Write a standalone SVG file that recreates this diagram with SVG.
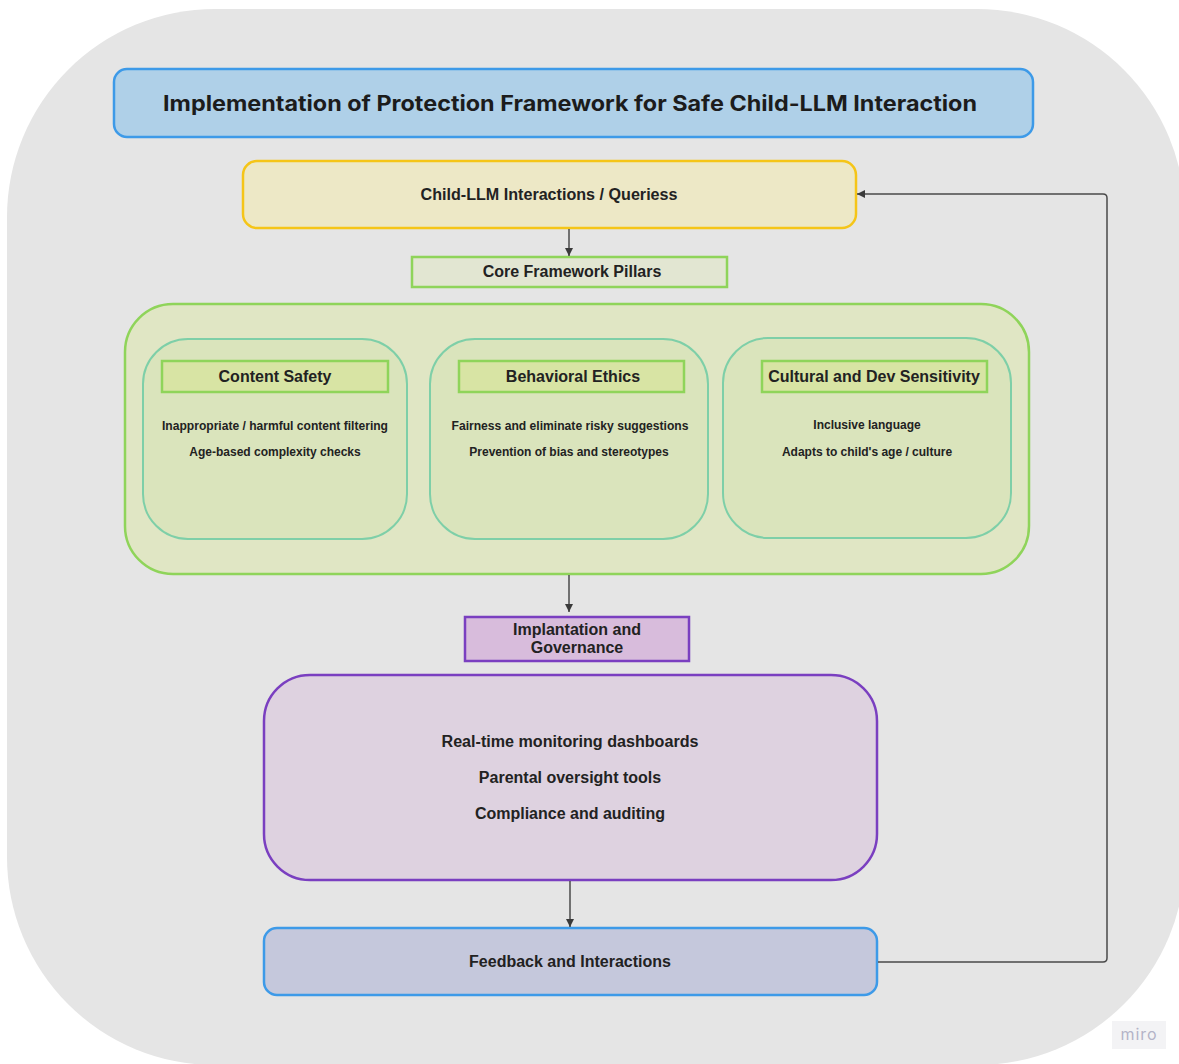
<svg xmlns="http://www.w3.org/2000/svg" width="1179" height="1064" viewBox="0 0 1179 1064">
<style>
  .t { font-family: "Liberation Sans", Arial, sans-serif; font-weight: bold; fill: #222; text-anchor: middle; }
  .title { font-family: Inter, "Noto Sans", sans-serif; font-weight: 700; fill: #1c1c1c; text-anchor: middle; font-size: 21px; }
  .conn { fill: none; stroke: #4a4a4a; stroke-width: 1.5; }
  .panel { fill: #dae4bc; stroke: #7ecfa8; stroke-width: 2; }
  .hdr { fill: #d8e4a4; stroke: #8fd45a; stroke-width: 2.5; }
</style>
<defs>
  <marker id="arr" viewBox="0 0 10 10" refX="10" refY="5" markerWidth="8" markerHeight="8" orient="auto" markerUnits="userSpaceOnUse">
    <path d="M0,0 L10,5 L0,10 z" fill="#3a3a3a"/>
  </marker>
</defs>
<rect x="0" y="0" width="1179" height="1064" fill="#ffffff"/>
<rect x="7" y="9" width="1178" height="1056" rx="208" ry="208" fill="#e5e5e5"/>

<g id="title">
  <rect x="114" y="69" width="919" height="68" rx="13" fill="#afd0e8" stroke="#3d9ae8" stroke-width="2.5"/>
  <text class="title" x="570" y="111" textLength="814" lengthAdjust="spacingAndGlyphs">Implementation of Protection Framework for Safe Child-LLM Interaction</text>
</g>

<g id="queries">
  <rect x="243" y="161" width="613" height="67" rx="14" fill="#ede8c6" stroke="#f5c518" stroke-width="2.5"/>
  <text class="t" x="549" y="200" font-size="16" textLength="257" lengthAdjust="spacingAndGlyphs">Child-LLM Interactions / Queriess</text>
</g>

<g id="core-pillars-label">
  <rect x="412" y="257" width="315" height="30" fill="#e2e6d2" stroke="#8fd45a" stroke-width="2.5"/>
  <text class="t" x="572" y="277" font-size="16">Core Framework Pillars</text>
</g>

<g id="pillars-container">
  <rect x="125" y="304" width="904" height="270" rx="48" fill="#e0e6c4" stroke="#8fd45a" stroke-width="2.5"/>
</g>

<g id="content-safety">
  <rect class="panel" x="143" y="339" width="264" height="200" rx="45"/>
  <rect class="hdr" x="162" y="361" width="226" height="31"/>
  <text class="t" x="275" y="382" font-size="16">Content Safety</text>
  <text class="t" x="275" y="430" font-size="12" textLength="226" lengthAdjust="spacingAndGlyphs">Inappropriate / harmful content filtering</text>
  <text class="t" x="275" y="456" font-size="12">Age-based complexity checks</text>
</g>

<g id="behavioral-ethics">
  <rect class="panel" x="430" y="339" width="278" height="200" rx="45"/>
  <rect class="hdr" x="459" y="361" width="225" height="31"/>
  <text class="t" x="573" y="382" font-size="16">Behavioral Ethics</text>
  <text class="t" x="570" y="430" font-size="12" textLength="237" lengthAdjust="spacingAndGlyphs">Fairness and eliminate risky suggestions</text>
  <text class="t" x="569" y="456" font-size="12">Prevention of bias and stereotypes</text>
</g>

<g id="cultural-sensitivity">
  <rect class="panel" x="723" y="338" width="288" height="200" rx="45"/>
  <rect class="hdr" x="762" y="361" width="225" height="31"/>
  <text class="t" x="874" y="382" font-size="16">Cultural and Dev Sensitivity</text>
  <text class="t" x="867" y="429" font-size="12">Inclusive language</text>
  <text class="t" x="867" y="456" font-size="12">Adapts to child's age / culture</text>
</g>

<g id="governance-label">
  <rect x="465" y="617" width="224" height="44" fill="#d8bcdc" stroke="#7a3fc0" stroke-width="2.5"/>
  <text class="t" x="577" y="635" font-size="16">Implantation and</text>
  <text class="t" x="577" y="653" font-size="16">Governance</text>
</g>

<g id="governance">
  <rect x="264" y="675" width="613" height="205" rx="46" fill="#ded2e0" stroke="#7a3fc0" stroke-width="2.5"/>
  <text class="t" x="570" y="747" font-size="16" textLength="257" lengthAdjust="spacingAndGlyphs">Real-time monitoring dashboards</text>
  <text class="t" x="570" y="783" font-size="16">Parental oversight tools</text>
  <text class="t" x="570" y="819" font-size="16">Compliance and auditing</text>
</g>

<g id="feedback">
  <rect x="264" y="928" width="613" height="67" rx="13" fill="#c5c8dc" stroke="#3d9ae8" stroke-width="2.5"/>
  <text class="t" x="570" y="967" font-size="16">Feedback and Interactions</text>
</g>

<g id="connectors">
  <path class="conn" d="M569,229 L569,256" marker-end="url(#arr)"/>
  <path class="conn" d="M569,575 L569,612" marker-end="url(#arr)"/>
  <path class="conn" d="M570,881 L570,927" marker-end="url(#arr)"/>
  <path class="conn" d="M878,962 L1103,962 Q1107,962 1107,958 L1107,198 Q1107,194 1103,194 L857,194" marker-end="url(#arr)"/>
</g>

<g id="watermark">
  <rect x="1112" y="1021" width="54" height="28" fill="#f3f3f5"/>
  <text x="1139" y="1040" font-family="Inter, 'Noto Sans', sans-serif" font-size="16" fill="#b4b4c8" text-anchor="middle" letter-spacing="1">miro</text>
</g>
</svg>
